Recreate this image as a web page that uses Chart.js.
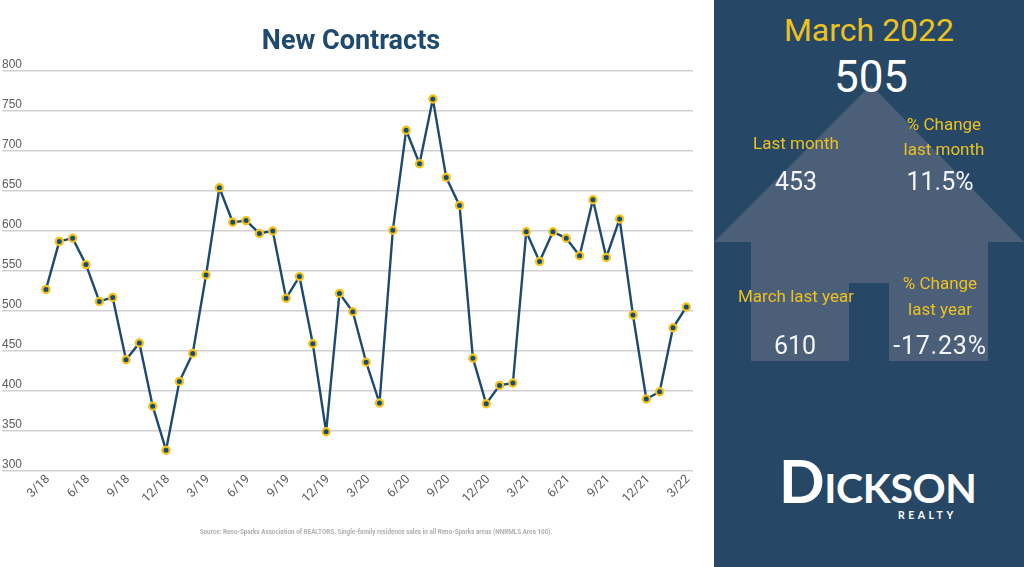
<!DOCTYPE html>
<html>
<head>
<meta charset="utf-8">
<title>New Contracts</title>
<script src="https://cdn.jsdelivr.net/npm/chart.js@4"></script>
<style>
  html, body { margin: 0; padding: 0; background: #fff; }
  body { width: 1024px; height: 567px; position: relative; overflow: hidden; font-family: Roboto, sans-serif; }
  #chartWrap { position: absolute; left: 0; top: 0; width: 714px; height: 567px; }
  #chartTitle { position: absolute; left: 151px; width: 400px; top: 23px; text-align: center; font: 700 27px/34px Roboto, sans-serif; color: #1f4a6f; }
  #source { position: absolute; left: 76px; width: 600px; top: 527px; text-align: center; font: 700 6.3px/10px Roboto, sans-serif; color: #b0b0b0; }
  #panel { position: absolute; left: 714px; top: 0; width: 310px; height: 567px; background: #264866; }
  #house { position: absolute; left: 714px; top: 0; }
  .txt { position: absolute; width: 220px; text-align: center; white-space: nowrap; transform: translate(-50%, -50%); }
  .gold { color: #ecc122; font-size: 17px; }
  .val { color: #f2f4f6; font-size: 25px; }
  #logo { position: absolute; left: 779px; top: 450px; color: #fff; font-family: Lato, sans-serif; font-weight: 700; line-height: 60px; font-size: 41px; letter-spacing: -.4px; white-space: nowrap; }
  #logo span { font-size: 60px; }
  #realty { position: absolute; left: 898px; top: 509px; color: #fff; font: 700 10.5px/13px Lato, sans-serif; letter-spacing: 3.5px; }
</style>
</head>
<body>
<div id="chartWrap"><canvas id="myChart" width="714" height="567"></canvas></div>
<div id="chartTitle">New Contracts</div>
<div id="source">Source: Reno-Sparks Association of REALTORS. Single-family residence sales in all Reno-Sparks areas (NNRMLS Area 100).</div>

<div id="panel"></div>
<svg id="house" width="310" height="567">
  <polygon fill="#4c5f79" points="157,85 310,242 274,242 274,361 175,361 175,283 135,283 135,361 37,361 37,242 0,242"/>
</svg>
<div class="txt" style="left:869px;top:30px;color:#ecc122;font-size:32px;">March 2022</div>
<div class="txt" style="left:871px;top:77px;color:#fff;font-size:44px;">505</div>
<div class="txt gold" style="left:796px;top:143px;">Last month</div>
<div class="txt gold" style="left:944px;top:124px;">% Change</div>
<div class="txt gold" style="left:944px;top:149px;">last month</div>
<div class="txt val" style="left:796px;top:181px;">453</div>
<div class="txt val" style="left:940px;top:181px;">11.5%</div>
<div class="txt gold" style="left:796px;top:296px;">March last year</div>
<div class="txt gold" style="left:940px;top:283px;">% Change</div>
<div class="txt gold" style="left:940px;top:309px;">last year</div>
<div class="txt val" style="left:795px;top:345px;">610</div>
<div class="txt val" style="left:940px;top:345px;letter-spacing:.8px;">-17.23%</div>
<div id="logo"><span>D</span>ICKSON</div>
<div id="realty">REALTY</div>

<script>
const months = [
  '3/18','4/18','5/18','6/18','7/18','8/18','9/18','10/18','11/18','12/18',
  '1/19','2/19','3/19','4/19','5/19','6/19','7/19','8/19','9/19','10/19','11/19','12/19',
  '1/20','2/20','3/20','4/20','5/20','6/20','7/20','8/20','9/20','10/20','11/20','12/20',
  '1/21','2/21','3/21','4/21','5/21','6/21','7/21','8/21','9/21','10/21','11/21','12/21',
  '1/22','2/22','3/22'
];
const newContracts = [
  527,587,591,558,512,517,439,460,381,326,
  412,447,545,654,611,613,597,600,516,543,459,349,
  522,499,436,385,601,726,684,765,667,632,441,384,
  407,410,599,562,599,591,569,639,567,615,495,390,
  399,479,505
];

const navy = '#1f4a6f';
const gold = '#f2c31a';
const gridColor = '#d3d0d3';
const tickColor = '#5c5c5c';

new Chart(document.getElementById('myChart').getContext('2d'), {
  type: 'line',
  data: {
    labels: months,
    datasets: [{
      label: 'New Contracts',
      data: newContracts,
      borderColor: navy,
      borderWidth: 2.4,
      borderJoinStyle: 'round',
      tension: 0,
      pointRadius: 3.6,
      pointBorderWidth: 2.2,
      pointBackgroundColor: navy,
      pointBorderColor: gold,
    }],
  },
  options: {
    responsive: false,
    animation: false,
    layout: { padding: { left: 2, right: 21, top: 71, bottom: 0 } },
    plugins: { legend: { display: false }, title: { display: false } },
    scales: {
      x: {
        offset: true,
        grid: { display: false },
        border: { display: false },
        afterFit: (scale) => { scale.height = 96; },
        ticks: {
          autoSkip: false,
          minRotation: 45,
          maxRotation: 45,
          padding: -7,
          labelOffset: 2,
          color: tickColor,
          font: { family: 'Roboto', size: 12.5 },
          callback: function (value, index) {
            return index % 3 === 0 ? this.getLabelForValue(value) : '';
          },
        },
      },
      y: {
        min: 300,
        max: 800,
        grid: { color: gridColor, lineWidth: 1.4, tickLength: 37, tickColor: gridColor },
        border: { display: false },
        afterFit: (scale) => { scale.width = 37.3; },
        ticks: {
          stepSize: 50,
          crossAlign: 'far',
          labelOffset: -6,
          padding: 0,
          color: tickColor,
          font: { family: 'Liberation Sans', size: 12 },
        },
      },
    },
  },
});
</script>
</body>
</html>
